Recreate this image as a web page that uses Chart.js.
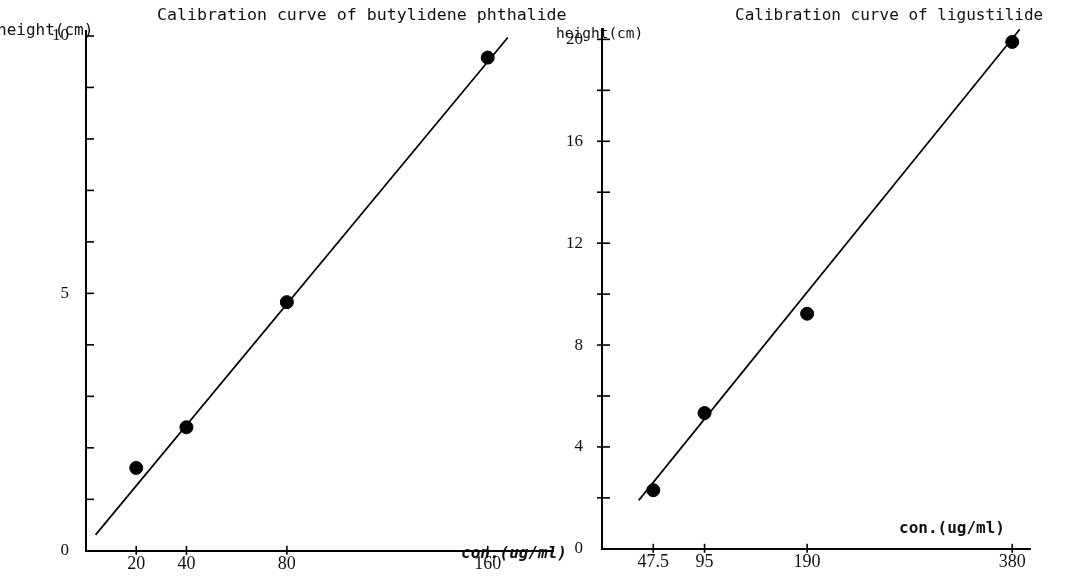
<!DOCTYPE html>
<html><head><meta charset="utf-8">
<script src="https://cdn.jsdelivr.net/npm/chart.js@4.4.1/dist/chart.umd.min.js"></script>
<style>
body{margin:0;background:#fff;width:1066px;height:578px;overflow:hidden;position:relative;font-family:"DejaVu Sans Mono","Liberation Mono",monospace;}
canvas{position:absolute;top:0}
.t{position:absolute;white-space:nowrap;color:#111;line-height:1}
</style></head><body>
<canvas id="c1" width="575" height="578" style="left:0px"></canvas>
<canvas id="c2" width="536" height="578" style="left:530px"></canvas>
<div class="t" id="title1" style="left:157px;top:7px;font-size:16.6px"></div>
<div class="t" id="title2" style="left:735px;top:7px;font-size:16px"></div>
<div class="t" id="ytitle1" style="left:-3px;top:22px;font-size:16px"></div>
<div class="t" id="ytitle2" style="left:556px;top:26px;font-size:14.5px"></div>
<div class="t" id="xtitle1" style="left:461px;top:545px;font-size:16px;font-style:italic;font-weight:bold"></div>
<div class="t" id="xtitle2" style="left:899px;top:520px;font-size:16px;font-weight:bold"></div>
<script>
// ---- data ----
const butylTitle = "Calibration curve of butylidene phthalide";
const ligTitle = "Calibration curve of ligustilide";
const yAxisTitle = "height(cm)";
const xAxisTitle = "con.(ug/ml)";

const butylConc = [20, 40, 80, 160];
const butylHeight = [1.61, 2.40, 4.83, 9.58];
const butylFitX = [3.8, 168];
const butylFitY = [0.31, 9.97];
const butylXTicks = [20, 40, 80, 160];
const butylYTicks = [0, 1, 2, 3, 4, 5, 6, 7, 8, 9, 10];
const butylYLabels = [0, 5, 10];

const ligConc = [47.5, 95, 190, 380];
const ligHeight = [2.3, 5.33, 9.23, 19.9];
const ligFitX = [34, 387];
const ligFitY = [1.90, 20.40];
const ligXTicks = [47.5, 95, 190, 380];
const ligYTicks = [0, 2, 4, 6, 8, 10, 12, 14, 16, 18, 20];
const ligYLabels = [0, 4, 8, 12, 16, 20];

document.getElementById('title1').textContent = butylTitle;
document.getElementById('title2').textContent = ligTitle;
document.getElementById('ytitle1').textContent = yAxisTitle;
document.getElementById('ytitle2').textContent = yAxisTitle;
document.getElementById('xtitle1').textContent = xAxisTitle;
document.getElementById('xtitle2').textContent = xAxisTitle;

const tickMarks = {
  id: 'tickMarks',
  afterDraw(chart, args, o) {
    const ctx = chart.ctx, xs = chart.scales.x, ys = chart.scales.y;
    const ax = chart.chartArea.left, ay = chart.chartArea.bottom;
    ctx.save();
    ctx.strokeStyle = '#000';
    ctx.lineWidth = 1.6;
    ys.ticks.forEach(t => {
      if (t.value === 0) return;
      const py = ys.getPixelForValue(t.value);
      ctx.beginPath(); ctx.moveTo(ax - o.yOut, py); ctx.lineTo(ax + o.yIn, py); ctx.stroke();
    });
    xs.ticks.forEach(t => {
      const px = xs.getPixelForValue(t.value);
      ctx.beginPath(); ctx.moveTo(px, ay - o.xUp); ctx.lineTo(px, ay + o.xDown); ctx.stroke();
    });
    ctx.restore();
  }
};

function makeChart(id, conc, height, fitX, fitY, xTicks, yTicks, yLabels, xMax, yMax, yWidth, pad, yPad) {
  return new Chart(document.getElementById(id), {
    type: 'scatter',
    data: {
      datasets: [
        { data: conc.map((v, i) => ({ x: v, y: height[i] })), backgroundColor: '#000', borderColor: '#000',
          pointRadius: 6.5, pointHoverRadius: 6.5, showLine: false, clip: false },
        { data: fitX.map((v, i) => ({ x: v, y: fitY[i] })), borderColor: '#000', borderWidth: 1.7,
          pointRadius: 0, showLine: true, clip: false }
      ]
    },
    options: {
      responsive: false, animation: false, devicePixelRatio: 1,
      layout: { padding: pad },
      plugins: { legend: { display: false }, tooltip: { enabled: false }, title: { display: false },
        tickMarks: { yOut: yPad.yOut, yIn: 8, xUp: 5, xDown: 4 } },
      scales: {
        x: {
          type: 'linear', min: 0, max: xMax,
          grid: { display: false, drawTicks: false },
          border: { display: true, color: '#000', width: 2 },
          afterBuildTicks: s => { s.ticks = xTicks.map(v => ({ value: v })); },
          afterFit: s => { s.height = 26; },
          ticks: { color: '#111', padding: 3, maxRotation: 0, autoSkip: false,
            font: { family: 'Liberation Serif', size: 18 }, callback: v => String(v) }
        },
        y: {
          type: 'linear', min: 0, max: yMax,
          grid: { display: false, drawTicks: false },
          border: { display: true, color: '#000', width: 2 },
          afterBuildTicks: s => { s.ticks = yTicks.map(v => ({ value: v })); },
          afterFit: s => { s.width = yWidth; },
          ticks: { color: '#111', padding: yPad.label, autoSkip: false,
            font: { family: 'Liberation Serif', size: 17 },
            callback: v => yLabels.includes(v) ? String(v) : '' }
        }
      }
    },
    plugins: [tickMarks]
  });
}

makeChart('c1', butylConc, butylHeight, butylFitX, butylFitY, butylXTicks, butylYTicks, butylYLabels,
  186, 10.1, 86, { top: 30.8, right: 22, bottom: 0, left: 0 }, { yOut: 0, label: 17 });
makeChart('c2', ligConc, ligHeight, ligFitX, ligFitY, ligXTicks, ligYTicks, ligYLabels,
  397, 20.4, 72, { top: 27.7, right: 35.4, bottom: 0, left: 0 }, { yOut: 5, label: 19 });
</script>
</body></html>
